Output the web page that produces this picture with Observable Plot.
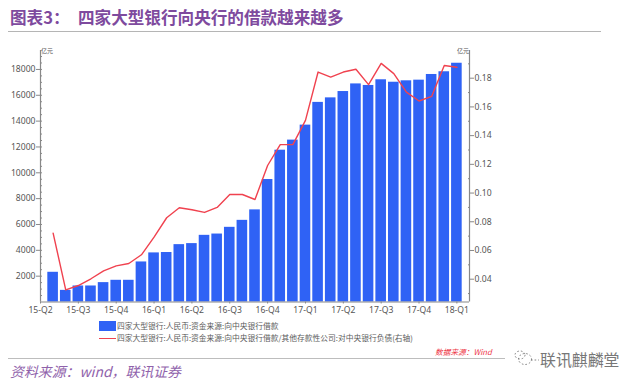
<!DOCTYPE html>
<html><head><meta charset="utf-8">
<script src="https://cdn.jsdelivr.net/npm/d3@7"></script>
<script src="https://cdn.jsdelivr.net/npm/@observablehq/plot@0.6"></script>
<style>
html,body{margin:0;padding:0;background:#fff;width:640px;height:388px;overflow:hidden}
#wrap{position:relative;width:640px;height:388px;font-family:"Noto Sans CJK SC","Noto Sans",sans-serif}
#wrap>div{position:absolute;white-space:nowrap}
#chart{left:0;top:0}
.lg{font-size:7.75px;color:#5c5c5c;line-height:10px}
</style></head><body>
<div id="wrap">
<div id="chart"></div>
<div style="left:10px;top:5px;font-size:16.6px;font-weight:700;color:#7e4a9e;line-height:24px">图表3：</div>
<div style="left:78px;top:5px;font-size:16.6px;font-weight:700;color:#7e4a9e;line-height:24px">四家大型银行向央行的借款越来越多</div>
<div style="left:8px;top:31px;width:593px;height:1px;background:#b5b5b5"></div>
<div style="left:41px;top:47px;font-size:6px;color:#555;line-height:8px">亿元</div>
<div style="left:457px;top:47px;font-size:6px;color:#555;line-height:8px">亿元</div>
<div style="left:99px;top:321px;width:17px;height:10px;background:#2f62f5"></div>
<div class="lg" style="left:117px;top:321px">四家大型银行:人民币:资金来源:向中央银行借款</div>
<div style="left:99px;top:338px;width:17px;height:1px;background:#f0424f"></div>
<div class="lg" style="left:117px;top:333px">四家大型银行:人民币:资金来源:向中央银行借款/其他存款性公司:对中央银行负债(右轴)</div>
<div style="left:8px;top:358px;width:497px;height:1px;background:#bdbdbd"></div>
<div style="left:435px;top:347px;font-size:7.7px;font-style:italic;color:#ee3344;line-height:10px">数据来源：Wind</div>
<div style="left:10px;top:361px;font-size:13.9px;font-style:italic;color:#8f62ab;line-height:20px">资料来源：wind，联讯证券</div>
<div style="left:507px;top:348px"><svg width="32" height="24" fill="none" stroke="#666" stroke-width="0.8" stroke-dasharray="1.6 2"><ellipse cx="18" cy="11" rx="6.5" ry="5.5"/><ellipse cx="13" cy="7" rx="5" ry="4"/><path d="M24 12H32"/></svg></div>
<div style="left:540px;top:349px;font-size:15.9px;color:#777;line-height:22px">联讯麒麟堂</div>
</div>
<script>
const quarterLabels = ["15-Q2","15-Q3","15-Q4","16-Q1","16-Q2","16-Q3","16-Q4","17-Q1","17-Q2","17-Q3","17-Q4","18-Q1"];
const borrowing = [2300,900,1240,1240,1500,1680,1680,3100,3800,3830,4440,4520,5160,5260,5780,6320,7130,9480,11750,12530,13690,15450,15800,16290,16880,16760,17200,17010,17120,17170,17610,17820,18480];
const ratio = [0.0721,0.0326,0.0356,0.0403,0.0458,0.0493,0.0509,0.0570,0.0693,0.0828,0.0898,0.0884,0.0865,0.0900,0.0990,0.0990,0.0955,0.1192,0.1337,0.1337,0.1506,0.1843,0.1808,0.1843,0.1862,0.1755,0.1903,0.1832,0.1703,0.1641,0.1673,0.1888,0.1876];
const leftMajor = [2000,4000,6000,8000,10000,12000,14000,16000,18000];
const leftMinor = d3.range(500,19001,500);
const rightMajor = [0.04,0.06,0.08,0.10,0.12,0.14,0.16,0.18];
const rightMinor = [0.03,0.05,0.07,0.09,0.11,0.13,0.15,0.17,0.19];

const toLeft = d3.scaleLinear().domain([0.04,0.18]).range([1765,17322]);
const bars = borrowing.map((v,i)=>({i:i+1,v}));
const line = ratio.map((v,i)=>({i:i+1,v:toLeft(v)}));
const font = '"Noto Sans","Open Sans",sans-serif';
const axisColor = "#888";

const plot = Plot.plot({
  width:640,height:388,
  marginLeft:40,marginRight:171,marginTop:50,marginBottom:86.5,
  style:{background:"transparent",fontFamily:font,fontSize:"9px",color:"#555"},
  x:{type:"linear",domain:[0,34]},
  y:{type:"linear",domain:[0,19466]},
  marks:[
    Plot.rectY(bars,{x1:d=>d.i-0.42,x2:d=>d.i+0.42,y1:0,y2:"v",fill:"#2f62f5"}),
    Plot.line(line,{x:"i",y:"v",stroke:"#f0424f",strokeWidth:1.4,curve:"linear"}),
    Plot.ruleX([0],{stroke:axisColor,strokeWidth:1.2}),
    Plot.ruleX([34],{stroke:axisColor,strokeWidth:1.2}),
    Plot.ruleY([0],{stroke:axisColor,strokeWidth:1.2}),
    Plot.axisX({ticks:quarterLabels.map((_,k)=>k*3),tickFormat:t=>quarterLabels[t/3],tickSize:2,tickPadding:3,stroke:axisColor,color:"#555",label:null,fontSize:8.6}),
    Plot.axisY({ticks:leftMajor,tickFormat:d=>String(d),tickSize:4,tickPadding:1,stroke:axisColor,fill:"#555",label:null,fontSize:8.6}),
    Plot.axisY({ticks:leftMinor,tickSize:-2,text:null,stroke:axisColor,label:null}),
    Plot.axisY({anchor:"right",ticks:rightMajor.map(toLeft),tickFormat:d=>toLeft.invert(d).toFixed(2),tickSize:4,tickPadding:1,stroke:axisColor,fill:"#555",label:null,fontSize:8.6}),
    Plot.axisY({anchor:"right",ticks:rightMinor.map(toLeft),tickSize:-2,text:null,stroke:axisColor,label:null})
  ]
});
document.getElementById("chart").appendChild(plot);
</script>
</body></html>
